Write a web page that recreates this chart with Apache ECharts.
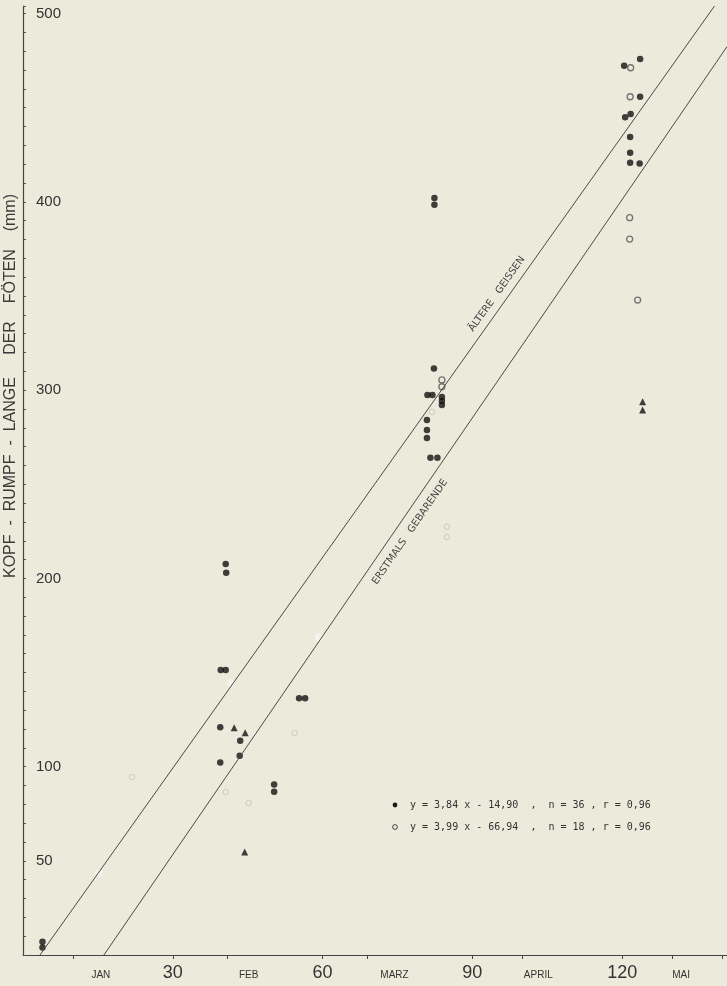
<!DOCTYPE html>
<html><head><meta charset="utf-8">
<script src="https://cdn.jsdelivr.net/npm/echarts@6/dist/echarts.min.js"></script>
<style>html,body{margin:0;padding:0;background:#eceada;}#c{width:727px;height:986px;}</style>
</head><body><div id="c"></div>
<script>
// Days of gestation (x) and head-body length of fetuses in mm (y)
const olderDays    = [3.9, 3.9, 40.6, 40.7, 39.6, 40.6, 39.5, 43.5, 43.4, 39.5, 55.3, 56.5, 50.3, 50.3,
                      82.3, 81.0, 82.0, 83.9, 83.9, 83.9, 80.9, 80.9, 80.9, 81.6, 83.0, 82.4, 82.4,
                      123.6, 120.4, 123.6, 121.7, 120.6, 121.6, 121.6, 121.6, 123.5];
const olderLengths = [7, 4, 207.6, 203, 151.4, 151.4, 121, 113.8, 105.8, 102.3, 136.3, 136.3, 90.6, 86.7,
                      311.5, 297.4, 297.4, 296.3, 294.2, 292.1, 284.1, 278.8, 274.6, 264.1, 264.1, 402, 398.5,
                      475.8, 472.3, 455.8, 446.6, 444.9, 434.4, 426, 420.8, 420.4];
const firstDays    = [121.7, 121.6, 121.5, 121.5, 123.1, 83.9, 83.9];
const firstLengths = [471.2, 455.8, 391.6, 380.2, 347.8, 305.4, 301.8];
const faintDays    = [81.9, 84.9, 84.9, 40.6, 54.4, 45.2, 21.8];
const faintLengths = [288.5, 227.5, 222, 86.6, 117.9, 80.7, 94.5];
const washedDays    = [15.2, 41.6, 59.2];
const washedLengths = [43.5, 144.4, 168.9];
const triDays      = [42.3, 44.5, 44.4, 124.1, 124.1];
const triLengths   = [120.7, 118, 54.7, 293.8, 289.4];
// regression lines (end points)
const lineOlder = [[3.4, 0], [138.5, 504]];
const lineFirst = [[16.2, 0], [141, 482.4]];
// axis labels
const xNumberLabels = [30, 60, 90, 120];
const xTickValues   = [10, 30, 41, 60, 69, 90, 100, 120, 130, 140];
const monthNames    = ['JAN', 'FEB', 'MARZ', 'APRIL', 'MAI'];
const monthPos      = [15.6, 45.2, 74.4, 103.2, 131.8];
const yLabels       = [50, 100, 200, 300, 400, 500];

const zip = (a, b) => a.map((v, i) => [v, b[i]]);
const chart = echarts.init(document.getElementById('c'), null, {renderer: 'canvas'});
const font = 'Liberation Sans, Arial, sans-serif';
const paper = '#eceada';
chart.setOption({
  backgroundColor: paper,
  animation: false,
  grid: {left: 23, right: 0, top: 6, bottom: 31, containLabel: false},
  xAxis: [{
    type: 'value', min: 0, max: 141,
    axisLine: {show: true, lineStyle: {color: '#444', width: 1.2}},
    splitLine: {show: false},
    axisTick: {show: true, customValues: xTickValues, length: 4, lineStyle: {color: '#444'}},
    axisLabel: {customValues: xNumberLabels, margin: 9, fontSize: 18, color: '#333', fontFamily: font}
  }, {
    type: 'value', min: 0, max: 141, position: 'bottom',
    axisLine: {show: false}, axisTick: {show: false}, splitLine: {show: false},
    axisLabel: {customValues: monthPos, margin: 15, fontSize: 10, color: '#333', fontFamily: font,
      formatter: v => monthNames[monthPos.indexOf(v)]}
  }],
  yAxis: {
    type: 'value', min: 0, max: 504, interval: 10,
    axisLine: {show: true, lineStyle: {color: '#444', width: 1.2}},
    splitLine: {show: false},
    axisTick: {show: true, inside: true, length: 3, lineStyle: {color: '#555'}},
    axisLabel: {customValues: yLabels, inside: true, margin: 13, fontSize: 15, color: '#333', fontFamily: font}
  },
  series: [
    {type: 'line', data: lineOlder, symbol: 'none', lineStyle: {color: '#4a4a4a', width: 1}, silent: true},
    {type: 'line', data: lineFirst, symbol: 'none', lineStyle: {color: '#4a4a4a', width: 1}, silent: true},
    {type: 'scatter', data: zip(washedDays, washedLengths), symbol: 'circle', symbolSize: 7,
      itemStyle: {color: '#f6f5ec', borderColor: '#f6f5ec', borderWidth: 1}},
    {type: 'scatter', data: zip(olderDays, olderLengths), symbol: 'circle', symbolSize: 6.5,
      itemStyle: {color: '#111'}},
    {type: 'scatter', data: zip(firstDays, firstLengths), symbol: 'circle', symbolSize: 6,
      itemStyle: {color: paper, borderColor: '#555', borderWidth: 1.3}},
    {type: 'scatter', data: zip(faintDays, faintLengths), symbol: 'circle', symbolSize: 5.5,
      itemStyle: {color: paper, borderColor: '#c4c3b4', borderWidth: 1}},
    {type: 'scatter', data: zip(triDays, triLengths), symbol: 'triangle', symbolSize: 7,
      itemStyle: {color: '#111'}}
  ],
  graphic: [
    {type: 'text', x: 11, y: 386, rotation: Math.PI / 2,
      style: {text: 'KOPF  -  RUMPF  -  LANGE     DER    FÖTEN    (mm)', align: 'center', verticalAlign: 'middle',
        font: '16px Liberation Sans, Arial, sans-serif', fill: '#3a3a3a'}},
    {type: 'text', x: 497, y: 294, rotation: 0.953,
      style: {text: 'ÄLTERE   GEISSEN', align: 'center', verticalAlign: 'middle',
        font: '10px DejaVu Sans, sans-serif', fill: '#444'}},
    {type: 'text', x: 410, y: 532, rotation: 0.969,
      style: {text: 'ERSTMALS   GEBARENDE', align: 'center', verticalAlign: 'middle',
        font: '10px DejaVu Sans, sans-serif', fill: '#444'}},
    {type: 'circle', shape: {cx: 395, cy: 805, r: 2.4}, style: {fill: '#1a1a1a'}},
    {type: 'text', x: 410, y: 805,
      style: {text: 'y = 3,84 x - 14,90  ,  n = 36 , r = 0,96', align: 'left', verticalAlign: 'middle',
        font: '10px DejaVu Sans Mono, monospace', fill: '#333'}},
    {type: 'circle', shape: {cx: 395, cy: 827, r: 2.4}, style: {fill: 'none', stroke: '#444', lineWidth: 1}},
    {type: 'text', x: 410, y: 827,
      style: {text: 'y = 3,99 x - 66,94  ,  n = 18 , r = 0,96', align: 'left', verticalAlign: 'middle',
        font: '10px DejaVu Sans Mono, monospace', fill: '#333'}}
  ]
});
</script>
</body></html>
